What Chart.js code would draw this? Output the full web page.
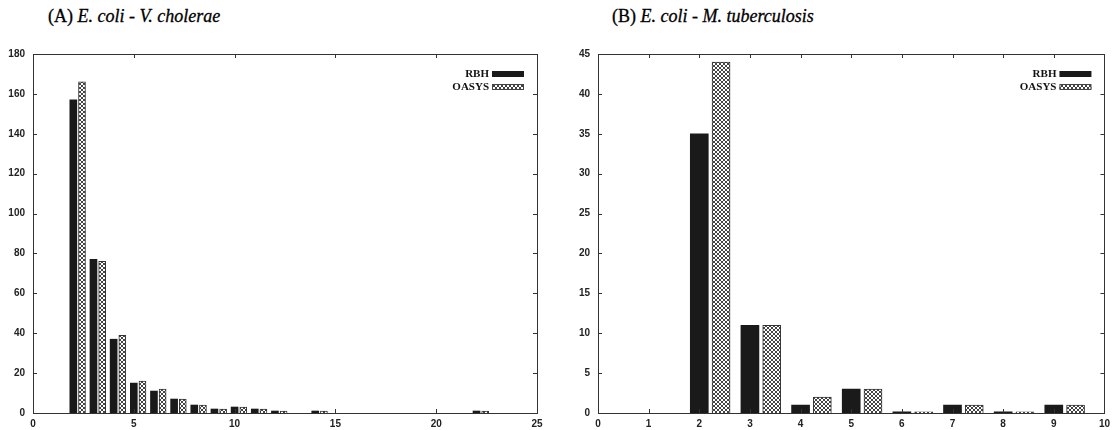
<!DOCTYPE html>
<html>
<head>
<meta charset="utf-8">
<script src="https://cdn.jsdelivr.net/npm/chart.js@4.4.1/dist/chart.umd.min.js"></script>
<style>
  html, body { margin: 0; padding: 0; background: #fff; }
  body { width: 1115px; height: 430px; position: relative; overflow: hidden; }
  .title { position: absolute; top: 6px; font-family: "Liberation Serif", "Times New Roman", serif; font-size: 18px; color: #000; white-space: nowrap; -webkit-text-stroke: 0.3px #000; }
  .wrap { position: absolute; top: 40px; height: 390px; }
</style>
</head>
<body>
<div class="title" style="left:48px">(A) <i>E. coli - V. cholerae</i></div>
<div class="title" style="left:612px">(B) <i>E. coli - M. tuberculosis</i></div>
<div class="wrap" style="left:0px;width:552px"><canvas id="cA"></canvas></div>
<div class="wrap" style="left:560px;width:555px"><canvas id="cB"></canvas></div>
<script>
// ---- data ----
const seriesNames = ["RBH", "OASYS"];
const catsA = [2, 3, 4, 5, 6, 7, 8, 9, 10, 11, 12, 14, 22];
const rbhA = [157, 77, 37, 15, 11, 7, 4, 2, 3, 2, 1, 1, 1];
const oasysA = [166, 76, 39, 16, 12, 7, 4, 2, 3, 2, 1, 1, 1];
const xTicksA = [0, 5, 10, 15, 20, 25];
const yTicksA = [0, 20, 40, 60, 80, 100, 120, 140, 160, 180];

const catsB = [2, 3, 4, 5, 6, 7, 8, 9];
const rbhB = [35, 11, 1, 3, 0.15, 1, 0.15, 1];
const oasysB = [44, 11, 2, 3, 0.15, 1, 0.15, 1];
const xTicksB = [0, 1, 2, 3, 4, 5, 6, 7, 8, 9, 10];
const yTicksB = [0, 5, 10, 15, 20, 25, 30, 35, 40, 45];

// ---- styles ----
const PAIR_SHIFT = 0.43;
function makePattern() {
  const c = document.createElement('canvas');
  c.width = 4; c.height = 4;
  const g = c.getContext('2d');
  g.fillStyle = '#ffffff'; g.fillRect(0, 0, 4, 4);
  g.fillStyle = '#444444';
  for (let i = 0; i < 4; i++) { g.fillRect(i, i, 1, 1); g.fillRect(3 - i, i, 1, 1); }
  return g.createPattern(c, 'repeat');
}
const pattern = makePattern();
const tickFont = { family: '"Liberation Sans", Arial, sans-serif', size: 10, weight: 'bold' };

const framePlugin = {
  id: 'frame',
  afterDatasetsDraw(chart) {
    const ctx = chart.ctx, a = chart.chartArea;
    const xs = chart.scales.x, ys = chart.scales.y;
    ctx.save();
    ctx.strokeStyle = '#333';
    ctx.lineWidth = 1;
    ctx.beginPath();
    const tl = 4;
    xs.ticks.forEach(t => {
      const p = Math.round(xs.getPixelForValue(t.value)) + 0.5;
      ctx.moveTo(p, a.bottom); ctx.lineTo(p, a.bottom - tl);
      ctx.moveTo(p, a.top); ctx.lineTo(p, a.top + tl);
    });
    ys.ticks.forEach(t => {
      const p = Math.round(ys.getPixelForValue(t.value)) + 0.5;
      ctx.moveTo(a.left, p); ctx.lineTo(a.left + tl, p);
      ctx.moveTo(a.right, p); ctx.lineTo(a.right - tl, p);
    });
    ctx.stroke();
    ctx.strokeRect(Math.round(a.left) + 0.5, Math.round(a.top) + 0.5, Math.round(a.right - a.left), Math.round(a.bottom - a.top));
    // legend
    ctx.font = 'bold 11px "Liberation Serif", "Times New Roman", serif';
    ctx.fillStyle = '#111';
    ctx.textAlign = 'right';
    ctx.textBaseline = 'middle';
    const rows = [a.top + 20, a.top + 33];
    chart.data.datasets.forEach((ds, i) => {
      const y = rows[i];
      ctx.fillText(ds.label, a.right - 48, y + 0.5);
      const sx = a.right - 45, sw = 32;
      if (i === 0) {
        ctx.fillStyle = '#1a1a1a';
        ctx.fillRect(sx, y - 3, sw, 6);
      } else {
        ctx.fillStyle = pattern;
        ctx.fillRect(sx, y - 2, sw, 4);
        ctx.strokeStyle = '#444';
        ctx.strokeRect(sx + 0.5, y - 2.5, sw - 1, 5);
      }
      ctx.fillStyle = '#111';
    });
    ctx.restore();
  }
};

function build(id, cats, rbh, oasys, xTicks, yTicks, thick, yW, padRight) {
  const xmin = xTicks[0], xmax = xTicks[xTicks.length - 1];
  const ymin = yTicks[0], ymax = yTicks[yTicks.length - 1];
  return new Chart(document.getElementById(id), {
    type: 'bar',
    data: {
      datasets: [
        { label: seriesNames[0], data: cats.map((c, i) => ({ x: c, y: rbh[i] })),
          backgroundColor: '#1a1a1a', borderWidth: 0, barThickness: thick, grouped: false },
        { label: seriesNames[1], data: cats.map((c, i) => ({ x: c + PAIR_SHIFT, y: oasys[i] })),
          backgroundColor: pattern, borderColor: '#333', borderWidth: 1, barThickness: thick, grouped: false }
      ]
    },
    options: {
      responsive: true, maintainAspectRatio: false, animation: false,
      layout: { padding: { top: 11, right: padRight, left: 0, bottom: 0 } },
      plugins: { legend: { display: false }, tooltip: { enabled: false }, frame: {} },
      scales: {
        x: {
          type: 'linear', min: xmin, max: xmax, offset: false,
          grid: { display: false, drawTicks: false, offset: false }, border: { display: false },
          ticks: { font: tickFont, color: '#222', padding: 5, maxRotation: 0, autoSkip: false },
          afterBuildTicks(s) { s.ticks = xTicks.map(v => ({ value: v })); },
          afterFit(s) { s.height = 17; }
        },
        y: {
          type: 'linear', min: ymin, max: ymax,
          grid: { display: false, drawTicks: false }, border: { display: false },
          ticks: { font: tickFont, color: '#222', padding: 8, autoSkip: false },
          afterBuildTicks(s) { s.ticks = yTicks.map(v => ({ value: v })); },
          afterFit(s) { s.width = yW; }
        }
      }
    },
    plugins: [framePlugin]
  });
}

build('cA', catsA, rbhA, oasysA, xTicksA, yTicksA, 7, 33, 15);
build('cB', catsB, rbhB, oasysB, xTicksB, yTicksB, 18, 38, 9);
</script>
</body>
</html>
